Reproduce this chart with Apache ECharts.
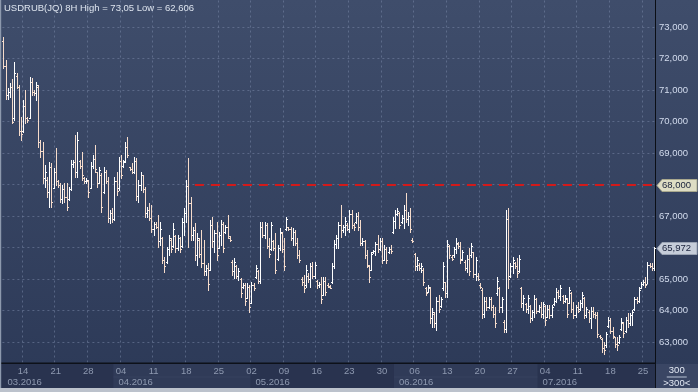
<!DOCTYPE html>
<html><head><meta charset="utf-8">
<script src="https://cdn.jsdelivr.net/npm/echarts@6/dist/echarts.min.js"></script>
<style>html,body{margin:0;padding:0;background:#2d3a58}#c{width:698px;height:392px}</style>
</head><body><div id="c"></div>
<script>
// ---------- DATA ----------
const titleText = 'USDRUB(JQ) 8H High = 73,05 Low = 62,606';
const startDate = [2016, 3, 9];          // first session date
const sessionHours = ['00', '08', '16']; // 8H sessions
const barCount = 300;
const levelValue = 68;                   // red dashed level
const levelStartIndex = 88;
const yTicks = [63, 64, 65, 66, 67, 68, 69, 70, 71, 72, 73];
const countLabel = '300';
const countLabel2 = '>300<';
// [open, high, low, close]
const ohlc = [
[72.55,72.69,71.69,71.75],[71.75,71.95,70.73,70.85],[70.85,71.05,70.73,70.95],[70.95,71.21,70.79,71.10],
[71.10,71.34,69.94,70.00],[70.10,71.90,70.05,71.55],[71.45,71.53,71.05,71.10],[71.10,71.16,69.57,69.70],
[69.70,70.15,69.41,69.60],[69.70,70.68,69.68,70.50],[70.50,71.00,69.94,70.10],[70.10,70.15,69.99,70.05],
[70.12,71.40,70.10,71.25],[71.25,71.37,70.84,70.95],[70.95,71.00,70.84,70.90],[70.90,71.26,70.68,71.15],
[71.10,71.16,69.20,69.35],[69.35,69.41,68.88,69.05],[69.05,69.36,68.04,68.20],[68.20,68.62,67.93,68.40],
[68.15,68.25,67.61,67.75],[67.75,68.72,67.30,68.55],[68.55,68.67,67.30,67.45],[67.90,68.51,67.88,68.40],
[68.40,69.15,67.98,68.10],[68.10,68.14,67.93,68.00],[68.00,68.04,67.45,67.55],[67.55,67.98,67.40,67.85],
[67.85,68.04,67.45,67.60],[67.60,68.04,67.19,67.30],[67.55,67.93,67.51,67.85],[67.85,68.78,67.82,68.65],
[68.65,68.78,68.57,68.70],[68.70,69.57,68.25,68.40],[68.40,69.68,68.25,69.40],[68.75,68.78,68.51,68.60],
[68.60,69.04,68.14,68.30],[68.20,68.25,68.04,68.10],[68.10,68.20,68.04,68.15],[68.10,68.14,67.61,67.75],
[67.90,68.72,67.88,68.60],[68.60,68.94,68.51,68.80],[68.80,69.25,68.41,68.50],[68.40,68.41,67.93,68.05],
[68.05,68.57,68.04,68.45],[68.30,68.35,67.14,67.30],[67.75,68.57,67.72,68.40],[68.40,68.46,68.04,68.10],
[68.10,68.25,66.82,66.95],[66.95,67.19,66.77,67.10],[67.10,67.24,66.82,66.90],[66.90,68.25,66.87,68.10],
[68.10,68.41,67.67,67.80],[67.90,68.88,67.82,68.75],[68.75,68.94,68.20,68.30],[68.60,68.78,68.57,68.70],
[68.75,69.36,68.72,69.20],[69.20,69.52,68.88,68.95],[68.55,68.57,68.46,68.50],[68.50,68.67,68.35,68.40],
[68.40,68.88,68.35,68.75],[68.75,68.83,67.51,67.65],[67.65,68.14,67.45,68.00],[68.00,68.41,67.82,68.30],
[68.30,68.30,67.77,67.85],[67.85,67.93,66.98,67.10],[67.10,67.30,66.98,67.20],[67.20,67.40,66.87,66.95],
[66.95,67.35,66.50,66.60],[66.60,66.82,66.40,66.75],[66.75,66.82,66.61,66.65],[66.65,67.03,66.03,66.20],
[66.20,66.82,66.08,66.60],[66.30,66.34,65.50,65.60],[65.60,65.71,65.23,65.40],[65.55,66.03,65.50,65.95],
[65.95,66.40,65.76,66.30],[66.25,66.29,65.87,65.95],[66.05,66.77,66.03,66.60],[66.35,66.40,65.87,66.00],
[66.00,66.40,65.92,66.30],[66.30,66.34,65.87,65.95],[66.05,66.93,66.03,66.80],[66.80,67.24,66.40,67.10],
[67.10,68.14,66.82,67.95],[67.95,68.83,66.03,67.40],[67.40,67.61,66.24,66.40],[66.40,66.66,66.24,66.55],
[66.55,66.77,65.60,65.75],[65.75,66.45,65.44,66.30],[66.25,66.29,65.71,65.80],[65.80,66.56,65.39,65.50],
[65.50,66.24,65.13,65.25],[65.25,65.44,65.13,65.35],[65.35,65.50,64.65,64.85],[65.30,66.87,65.29,66.70],
[66.70,66.98,66.03,66.20],[66.20,66.56,65.87,66.45],[66.45,66.82,65.60,65.75],[66.00,66.50,65.97,66.40],
[66.40,66.87,66.08,66.75],[66.75,66.82,65.87,66.00],[66.50,66.71,66.45,66.65],[66.65,67.03,66.29,66.35],
[66.30,66.35,66.20,66.25],[65.55,65.60,65.13,65.25],[65.25,65.66,65.02,65.55],[65.40,65.44,65.02,65.10],
[65.10,65.34,64.97,65.25],[65.00,65.02,64.44,64.55],[64.75,64.86,64.70,64.80],[64.80,64.86,64.17,64.30],
[64.40,64.86,64.39,64.75],[64.75,64.81,63.96,64.10],[64.25,64.92,64.23,64.80],[64.80,64.86,64.65,64.70],
[65.05,65.44,65.02,65.35],[65.25,65.29,64.86,64.95],[64.95,66.82,64.86,66.65],[66.65,66.82,66.34,66.40],
[66.40,66.82,66.29,66.70],[66.70,66.77,65.97,66.05],[66.05,66.29,65.71,65.80],[65.95,66.82,65.92,66.70],
[66.20,66.24,65.92,66.00],[66.00,66.45,65.18,65.30],[65.65,66.08,65.60,66.00],[66.00,66.61,65.92,66.50],
[66.45,66.50,65.87,65.95],[65.95,66.29,65.29,65.40],[66.60,66.98,66.56,66.90],[66.65,66.66,66.56,66.60],
[66.60,66.66,66.24,66.30],[66.30,66.61,66.08,66.50],[66.50,66.56,66.08,66.15],[66.15,66.29,65.66,65.75],
[65.75,65.92,65.55,65.60],[65.00,65.07,64.81,64.90],[64.90,65.13,64.60,64.70],[64.80,65.44,64.76,65.30],
[65.10,65.18,64.92,65.00],[65.00,65.50,64.76,65.40],[65.40,65.55,65.02,65.10],[65.10,65.55,65.02,65.45],
[64.95,64.97,64.70,64.80],[64.80,64.92,64.76,64.85],[64.85,65.07,64.23,64.35],[64.50,65.07,64.49,64.95],
[64.95,65.07,64.49,64.60],[64.80,64.86,64.76,64.78],[64.75,64.81,64.70,64.72],[64.90,65.50,64.86,65.40],
[65.40,66.24,65.34,66.10],[66.10,66.40,65.97,66.30],[66.30,66.82,65.97,66.70],[66.70,67.35,66.34,66.55],
[66.55,66.71,66.50,66.65],[66.65,66.98,66.40,66.85],[66.70,66.77,66.56,66.60],[66.60,67.19,66.50,67.05],
[67.05,67.19,66.61,66.70],[66.70,66.77,66.56,66.65],[66.80,67.08,66.77,67.00],[67.00,67.14,66.56,66.65],
[66.65,66.87,66.08,66.15],[66.15,66.29,66.08,66.20],[66.20,66.24,65.66,65.75],[65.75,65.92,65.39,65.45],
[65.40,65.44,64.92,65.05],[65.30,65.87,65.29,65.80],[65.85,65.92,65.82,65.88],[65.88,66.18,65.76,66.10],
[66.10,66.40,65.87,65.95],[65.95,66.29,65.92,66.20],[66.20,66.29,65.50,65.60],[65.60,66.08,65.60,65.95],
[65.95,66.03,65.50,65.60],[65.85,66.03,65.82,65.95],[65.95,66.08,65.82,65.90],[66.50,66.98,66.45,66.85],
[66.85,67.19,66.61,67.05],[67.05,67.24,67.03,67.15],[67.10,67.14,66.61,66.70],[66.80,67.03,66.77,66.95],
[66.95,67.35,66.61,67.20],[67.20,67.72,66.82,66.90],[66.90,67.14,66.71,67.00],[67.00,67.24,66.50,66.60],
[66.25,66.29,66.18,66.20],[65.80,65.82,65.29,65.40],[65.40,65.71,65.29,65.60],[65.45,65.50,65.29,65.35],
[65.35,65.50,65.23,65.40],[65.30,65.34,64.81,64.90],[64.70,64.76,64.49,64.55],[64.60,64.81,64.60,64.75],
[64.70,64.76,63.59,63.75],[63.75,64.07,63.49,63.95],[63.90,63.96,63.49,63.60],[63.60,64.44,63.38,64.30],
[64.30,64.49,63.96,64.05],[64.15,64.44,64.12,64.35],[64.70,65.55,64.65,65.40],[64.90,64.92,64.44,64.55],
[64.55,66.24,64.44,66.10],[66.05,66.08,65.66,65.75],[65.70,65.76,65.60,65.65],[65.75,66.03,65.71,65.95],
[65.95,66.29,65.82,66.15],[66.10,66.18,65.97,66.05],[66.05,66.18,65.50,65.60],[65.65,65.92,65.60,65.85],
[65.55,65.60,65.29,65.35],[65.35,65.76,65.23,65.65],[65.65,65.97,65.13,65.25],[65.75,66.13,65.71,66.05],
[65.85,65.87,65.07,65.15],[65.15,65.71,64.97,65.60],[65.10,65.18,64.97,65.00],[64.80,64.86,64.70,64.75],
[64.65,64.70,63.75,63.90],[63.90,64.44,63.80,64.30],[64.30,64.44,64.01,64.10],[64.10,64.44,64.07,64.35],
[64.35,64.44,64.01,64.10],[64.10,64.17,63.80,63.90],[63.90,64.12,63.49,63.60],[64.55,65.07,64.49,64.95],
[64.70,64.76,63.96,64.10],[64.10,64.44,63.96,64.35],[63.65,63.70,63.33,63.40],[63.40,67.19,63.33,66.90],
[66.90,67.24,64.70,65.00],[65.10,65.50,65.07,65.40],[65.40,65.71,65.18,65.60],[65.50,65.55,65.34,65.40],
[65.40,65.66,65.07,65.20],[65.25,65.76,65.23,65.65],[64.70,64.76,64.12,64.25],[64.25,64.49,64.01,64.40],
[64.20,64.23,63.96,64.05],[64.05,64.49,63.91,64.40],[64.15,64.17,63.65,63.75],[63.75,64.01,63.70,63.95],
[63.95,64.49,63.80,64.35],[64.35,64.39,63.91,64.00],[64.00,64.17,63.96,64.10],[64.10,64.28,63.80,63.90],
[63.90,64.28,63.75,64.20],[64.15,64.17,63.54,63.70],[63.80,64.17,63.80,64.05],[64.05,64.17,63.75,63.85],
[63.85,64.17,63.80,64.10],[64.20,64.39,64.17,64.30],[64.30,64.70,64.28,64.60],[64.60,64.65,64.39,64.45],
[64.45,64.81,64.33,64.70],[64.45,64.49,64.23,64.30],[64.30,64.49,64.28,64.40],[64.35,64.39,63.80,63.90],
[64.25,64.76,64.23,64.65],[64.55,64.60,63.96,64.05],[64.05,64.28,63.75,63.85],[63.85,64.17,63.80,64.10],
[64.10,64.28,63.96,64.00],[64.05,64.33,64.01,64.25],[64.25,64.60,64.12,64.50],[64.40,64.44,63.75,63.85],
[63.85,64.12,63.80,64.05],[63.95,64.01,63.65,63.75],[63.75,64.12,63.43,64.00],[64.00,64.12,63.80,63.90],
[63.90,63.96,63.75,63.85],[63.85,63.96,63.17,63.25],[63.20,63.22,63.12,63.15],[63.10,63.12,62.69,62.80],
[62.80,63.01,62.61,62.75],[62.90,63.33,62.85,63.25],[63.50,63.80,63.49,63.70],[63.70,63.75,63.28,63.35],
[63.35,63.49,63.12,63.20],[63.15,63.17,62.85,62.95],[62.95,63.17,62.75,62.90],[63.00,63.22,62.96,63.15],
[63.40,63.75,63.38,63.65],[63.60,63.65,63.17,63.30],[63.35,63.80,63.33,63.70],[63.70,63.91,63.49,63.60],
[63.60,63.91,63.54,63.85],[63.85,64.01,63.54,63.95],[64.05,64.44,64.01,64.35],[64.35,64.44,64.23,64.30],
[64.30,64.76,64.28,64.65],[64.70,64.91,64.70,64.85],[64.85,64.97,64.81,64.90],[64.90,65.07,64.76,64.80],
[64.85,65.55,64.86,65.45],[65.45,65.50,65.39,65.42],[65.40,65.50,65.29,65.35],[65.35,66.03,65.29,65.972]
];

// ---------- CATEGORIES (trading sessions) ----------
function buildSessions() {
  const out = [];
  const d = new Date(Date.UTC(startDate[0], startDate[1] - 1, startDate[2]));
  while (out.length < barCount) {
    const wd = d.getUTCDay();
    if (wd !== 0 && wd !== 6) {
      const iso = d.toISOString().slice(0, 10);
      for (const h of sessionHours) if (out.length < barCount) out.push(iso + ' ' + h + ':00');
    }
    d.setUTCDate(d.getUTCDate() + 1);
  }
  return out;
}
const sessions = buildSessions();

const isWeekStart = (idx, val) => {
  const v = sessions[idx];
  return new Date(v.slice(0, 10) + 'T00:00:00Z').getUTCDay() === 1 && v.endsWith('00:00');
};
const isMonthStart = (idx) => idx === 0 || sessions[idx].slice(5, 7) !== sessions[idx - 1].slice(5, 7);

const FONT = 'Liberation Sans, Arial, sans-serif';
const UP = '#ffffff', DOWN = '#f6dccb';

const chart = echarts.init(document.getElementById('c'), null, { renderer: 'canvas' });

const seriesData = ohlc.map((b, i) => [i, b[0], b[1], b[2], b[3]]);

const option = {
  animation: false,
  backgroundColor: new echarts.graphic.LinearGradient(0, 0, 0, 1, [
    { offset: 0, color: '#3f4d6b' }, { offset: 1, color: '#2c3957' }
  ]),
  grid: { left: 2.4, right: 43, top: -4.5, bottom: 18.5, outerBoundsMode: 'none', containLabel: false },
  xAxis: [
    {
      type: 'category', data: sessions, boundaryGap: true, position: 'bottom', z: 0,
      axisLine: { show: false }, axisTick: { show: false }, axisLabel: { show: false },
      splitLine: { show: true, interval: isWeekStart, lineStyle: { color: 'rgba(125,140,172,0.5)', type: [2, 3], width: 1 } }
    },
    {
      type: 'category', data: sessions, boundaryGap: true, position: 'bottom', offset: -10.5, z: 10,
      axisLine: { show: false }, axisTick: { show: false }, splitLine: { show: false },
      axisLabel: { interval: isWeekStart, formatter: v => v.slice(8, 10), color: '#8e99b0', fontSize: 9.5, fontFamily: FONT, margin: 3 }
    },
    {
      type: 'category', data: sessions, boundaryGap: true, position: 'bottom', offset: -10.5, z: 10,
      axisLine: { show: false }, axisTick: { show: false }, splitLine: { show: false },
      axisLabel: { interval: isMonthStart, formatter: v => v.slice(5, 7) + '.' + v.slice(0, 4), color: '#8e99b0', fontSize: 9.5, fontFamily: FONT, margin: 14, align: 'left', padding: [0, 0, 0, 4] }
    }
  ],
  yAxis: {
    type: 'value', position: 'right', min: 62, max: 74, interval: 1, z: 0,
    axisLine: { show: true, lineStyle: { color: '#0b0e15', width: 1 } },
    axisTick: { show: false },
    axisLabel: {
      margin: 4, color: '#d3dcee', fontSize: 9.5, fontFamily: FONT,
      formatter: v => (yTicks.indexOf(v) < 0 || v === levelValue) ? '' : v.toFixed(3).replace('.', ',')
    },
    splitLine: { show: true, lineStyle: { color: 'rgba(125,140,172,0.5)', type: [2, 3], width: 1 } }
  },
  series: [{
    type: 'custom', xAxisIndex: 0, yAxisIndex: 0, z: 2,
    data: seriesData,
    encode: { x: 0, y: [1, 2, 3, 4] },
    renderItem: function (params, api) {
      const i = api.value(0);
      const o = api.coord([i, api.value(1)]);
      const h = api.coord([i, api.value(2)]);
      const l = api.coord([i, api.value(3)]);
      const c = api.coord([i, api.value(4)]);
      const px = Math.round(o[0]) + 0.5;
      const col = api.value(4) >= api.value(1) ? UP : DOWN;
      const st = { stroke: col, lineWidth: 1 };
      const yo = Math.round(o[1]) + 0.5, yc = Math.round(c[1]) + 0.5;
      return {
        type: 'group', children: [
          { type: 'line', shape: { x1: px, y1: Math.round(h[1]), x2: px, y2: Math.round(l[1]) + 1 }, style: st },
          { type: 'line', shape: { x1: px - 1.5, y1: yo, x2: px, y2: yo }, style: st },
          { type: 'line', shape: { x1: px, y1: yc, x2: px + 1.5, y2: yc }, style: st }
        ]
      };
    },
    markLine: {
      silent: true, symbol: ['none', 'none'], label: { show: false },
      lineStyle: { color: '#d21a1a', width: 2, type: [9, 7] },
      data: [[{ coord: [sessions[levelStartIndex], levelValue] }, { coord: [sessions[barCount - 1], levelValue] }]]
    }
  }]
};
chart.setOption(option);

// ---------- overlays positioned through the chart's scales ----------
const half = (chart.convertToPixel({ xAxisIndex: 0 }, sessions[1]) - chart.convertToPixel({ xAxisIndex: 0 }, sessions[0])) / 2;
const xAt = i => chart.convertToPixel({ xAxisIndex: 0 }, sessions[i]);
const yAt = v => chart.convertToPixel({ yAxisIndex: 0 }, v);
const rightX = xAt(barCount - 1) + half + 0.5;
const monthStarts = [];
sessions.forEach((s, i) => { if (isMonthStart(i)) monthStarts.push(i); });
const axisTop = 363, axisBottom = 388;
const g = [];
g.push({ type: 'rect', z: 5, shape: { x: 0, y: axisTop, width: rightX, height: axisBottom - axisTop }, style: { fill: '#29334f' } });
monthStarts.forEach((ms, k) => {
  if (k % 2 === 1) {
    const x0 = xAt(ms) - half;
    const x1 = k + 1 < monthStarts.length ? xAt(monthStarts[k + 1]) - half : rightX;
    g.push({ type: 'rect', z: 5, shape: { x: x0, y: axisTop, width: x1 - x0, height: axisBottom - axisTop }, style: { fill: '#303b58' } });
    g.push({ type: 'rect', z: 5, shape: { x: x0, y: 376.5, width: x1 - x0, height: 1 }, style: { fill: '#37425f' } });
  }
});
g.push({ type: 'rect', z: 6, shape: { x: 0, y: axisTop - 0.5, width: rightX, height: 1.5 }, style: { fill: '#0d1119' } });
g.push({ type: 'rect', z: 6, shape: { x: rightX - 0.5, y: axisTop, width: 1, height: axisBottom - axisTop }, style: { fill: '#0d1119' } });
g.push({ type: 'rect', z: 5, shape: { x: rightX + 0.5, y: axisTop + 1, width: 698 - rightX, height: axisBottom - axisTop - 1 }, style: { fill: '#3a4664' } });
g.push({ type: 'text', z: 7, style: { x: (rightX + 698) / 2, y: 370, text: countLabel, fill: '#e4eaf5', font: '9.5px ' + FONT, align: 'center', verticalAlign: 'middle' } });
g.push({ type: 'rect', z: 7, shape: { x: (rightX + 698) / 2 - 10, y: 376.5, width: 20, height: 1 }, style: { fill: '#b8c2d4' } });
g.push({ type: 'text', z: 7, style: { x: (rightX + 698) / 2, y: 383, text: countLabel2, fill: '#e4eaf5', font: '9.5px ' + FONT, align: 'center', verticalAlign: 'middle' } });
g.push({ type: 'rect', z: 8, shape: { x: 0, y: axisBottom, width: 698, height: 392 - axisBottom }, style: { fill: '#bcc2cc' } });
g.push({ type: 'rect', z: 8, shape: { x: 0, y: 0, width: 1.2, height: axisBottom }, style: { fill: '#8d99ad' } });
g.push({ type: 'text', z: 8, style: { x: 4, y: 8, text: titleText, fill: '#dde4ee', font: '9.5px ' + FONT, verticalAlign: 'middle' } });

function priceTag(v, fill, stroke) {
  const y = Math.round(yAt(v)) + 0.5;
  const x0 = rightX + 1.5, x1 = 697;
  g.push({ type: 'polygon', z: 8, shape: { points: [[x0, y], [x0 + 5, y - 6], [x1, y - 6], [x1, y + 6], [x0 + 5, y + 6]] }, style: { fill: fill, stroke: stroke, lineWidth: 1 } });
  g.push({ type: 'text', z: 9, style: { x: x0 + 5, y: y, text: v.toFixed(3).replace('.', ','), fill: '#18203a', font: '9.5px ' + FONT, verticalAlign: 'middle' } });
}
priceTag(levelValue, '#deddc4', '#a9a88e');
priceTag(ohlc[ohlc.length - 1][3], '#c6cdd9', '#9aa3b3');

chart.setOption({ graphic: g });
</script></body></html>
